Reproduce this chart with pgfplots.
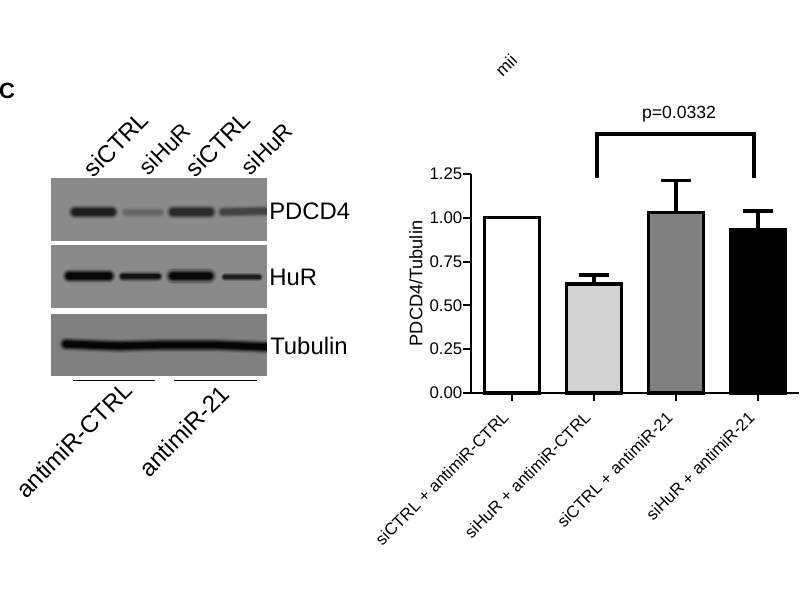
\documentclass[border=0pt]{standalone}
\usepackage{fontspec}
\setmainfont{Liberation Sans}
\usepackage{pgfplots}
\pgfplotsset{compat=1.18}

\definecolor{blot}{HTML}{8A8A8A}
\definecolor{blotb}{HTML}{808080}
\definecolor{barlight}{HTML}{D3D3D3}
\definecolor{barmid}{HTML}{808080}

\newcommand{\fs}[1]{\fontsize{#1}{#1}\selectfont}

% soft western blot band: coordinates, thickness in px, colour
\newcommand{\band}[3]{%
  \addplot[color=#3, opacity=0.12, line width=1.3*#2pt, line cap=round] coordinates {#1};
  \addplot[color=#3, opacity=0.2, line width=1.1*#2pt, line cap=round] coordinates {#1};
  \addplot[color=#3, opacity=0.35, line width=0.9*#2pt, line cap=round] coordinates {#1};
  \addplot[color=#3, opacity=0.5, line width=0.7*#2pt, line cap=round] coordinates {#1};
  \addplot[color=#3, opacity=0.8, line width=0.5*#2pt, line cap=round] coordinates {#1};
}
\newcommand{\panel}[3]{%
  \addplot[fill=#3, draw=none] coordinates {(51,#1)(267,#1)(267,#2)(51,#2)} --cycle;
}

\begin{document}
\begin{tikzpicture}[x=0.75pt,y=0.75pt]
\useasboundingbox (0,0) rectangle (800,600);

% blot panels
\begin{axis}[
  at={(38.25pt,168pt)}, anchor=south west,
  scale only axis, width=162pt, height=148.5pt,
  xmin=51, xmax=267, ymin=178, ymax=376, y dir=reverse,
  hide axis,
]
\panel{178}{241}{blot}
\panel{245}{308}{blot}
\panel{314}{376}{blotb}
\band{(75,212)(112,212)}{8}{black!90}
\band{(126,212.5)(160,212.5)}{6}{black!60}
\band{(173,212)(210,212)}{8}{black!85}
\band{(223,212)(267,211)}{7}{black!75}
\band{(69,276)(109,276)}{8}{black}
\band{(123,276.5)(158,276.5)}{6}{black!95}
\band{(173,276)(209,276)}{9}{black}
\band{(225,277)(259,277)}{5}{black!90}
\band{(66,344)(90,345)(120,346)(160,345)(215,345)(267,347)}{8}{black}
\end{axis}

% quantification
\begin{axis}[
  at={(353.25pt,155.25pt)}, anchor=south west,
  scale only axis, width=246pt, height=164.25pt,
  xmin=-0.5, xmax=3.5, ymin=0, ymax=1.25,
  axis lines=left, axis line style={-, line width=1.4pt, black},
  tick align=outside, tick style={line width=1.4pt, black},
  major tick length=6pt,
  xtick={0,1,2,3},
  xticklabels={siCTRL + antimiR-CTRL, siHuR + antimiR-CTRL, siCTRL + antimiR-21, siHuR + antimiR-21},
  xticklabel style={rotate=45, anchor=north east, font=\fs{12.5}, inner sep=1pt, xshift=-9.5pt, yshift=2pt},
  ytick={0,0.25,0.5,0.75,1,1.25},
  yticklabel style={font=\fs{12.6}, xshift=3pt, /pgf/number format/.cd, fixed, fixed zerofill, precision=2, assume math mode=true},
  ylabel={PDCD4/Tubulin},
  ylabel style={font=\fs{13.6}, at={(axis description cs:-0.133,0.5)}, anchor=south},
  clip=false,
  every axis plot/.append style={line width=2.5pt, bar width=40.9pt, bar shift=0pt},
  /pgfplots/error bars/error bar style={line width=2.4pt, black},
  /pgfplots/error bars/error mark options={rotate=90, mark size=11.6pt, line width=2.4pt, black},
]
\addplot[ybar, draw=black, fill=white] coordinates {(0,1.00)};
\addplot[ybar, draw=black, fill=barlight, error bars/.cd, y dir=plus, y explicit] coordinates {(1,0.622) +- (0,0.052)};
\addplot[ybar, draw=black, fill=barmid, error bars/.cd, y dir=plus, y explicit] coordinates {(2,1.03) +- (0,0.185)};
\addplot[ybar, draw=black, fill=black, error bars/.cd, y dir=plus, y explicit] coordinates {(3,0.932) +- (0,0.107)};
% significance bracket
\addplot[black, line width=2.4pt] coordinates {(1.037,1.227)(1.037,1.478)(2.951,1.478)(2.951,1.227)};
\end{axis}

\node[font=\fs{13.2}] at (679,486) {p=0.0332};

\node[font=\bfseries\fs{16.5}, inner sep=0] at (7,509) {C};
\node[font=\fs{18}, rotate=45, inner sep=0] at (116,456) {siCTRL};
\node[font=\fs{17}, rotate=45, inner sep=0] at (165,451) {siHuR};
\node[font=\fs{18}, rotate=45, inner sep=0] at (218,456) {siCTRL};
\node[font=\fs{17}, rotate=45, inner sep=0] at (267,451) {siHuR};
\node[font=\fs{17.9}, anchor=west, inner sep=0] at (269,389) {PDCD4};
\node[font=\fs{17.9}, anchor=west, inner sep=0] at (269,323) {HuR};
\node[font=\fs{17.9}, anchor=west, inner sep=0] at (270,254) {Tubulin};
\draw[line width=0.75pt] (73,219) -- (155,219);
\draw[line width=0.75pt] (174,219) -- (257,219);
\node[font=\fs{18}, rotate=45, inner sep=0] at (74,160) {antimiR-CTRL};
\node[font=\fs{18}, rotate=45, inner sep=0] at (184,169) {antimiR-21};
\node[font=\fs{13}, rotate=45, inner sep=0] at (506,535) {mii};
\end{tikzpicture}
\end{document}
